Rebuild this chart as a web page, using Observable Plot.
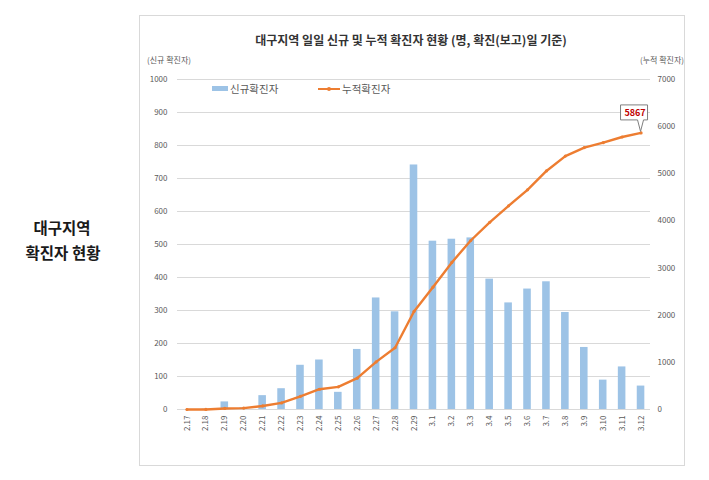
<!DOCTYPE html>
<html><head><meta charset="utf-8">
<script src="https://cdn.jsdelivr.net/npm/d3@7"></script>
<script src="https://cdn.jsdelivr.net/npm/@observablehq/plot@0.6"></script>
<style>
body{margin:0;background:#fff;font-family:"Noto Sans CJK KR","Noto Sans",sans-serif;}
#wrap{position:relative;width:709px;height:480px;overflow:hidden;}
#wrap svg{position:absolute;left:0;top:0;}
.abs{position:absolute;white-space:nowrap;line-height:1;}
#frame{position:absolute;left:139px;top:15px;width:546px;height:451px;border:1px solid #d9d9d9;box-sizing:border-box;}
.side{font-size:15.5px;font-weight:bold;color:#1a1a1a;transform:translate(-50%,-50%);}
.title{font-size:12px;font-weight:bold;color:#333;left:411px;top:40px;transform:translate(-50%,-50%);}
.axt{font-size:8px;color:#595959;top:60px;transform:translateY(-50%);}
.leg{font-size:10.5px;color:#595959;top:89px;transform:translateY(-50%);}
</style></head><body>
<div id="wrap">
  <div id="frame"></div>
  <div class="abs side" style="left:62px;top:228px;">대구지역</div>
  <div class="abs side" style="left:63px;top:253px;">확진자 현황</div>
  <div class="abs title">대구지역 일일 신규 및 누적 확진자 현황 (명, 확진(보고)일 기준)</div>
  <div class="abs axt" style="left:147px;">(신규 확진자)</div>
  <div class="abs axt" style="right:25px;">(누적 확진자)</div>
  <div class="abs" style="left:212px;top:86px;width:16px;height:5px;background:#9dc3e6;"></div>
  <div class="abs leg" style="left:230px;">신규확진자</div>
  <div class="abs" style="left:318px;top:88px;width:22px;height:2px;background:#ed7d31;"></div>
  <div class="abs" style="left:327px;top:87px;width:4px;height:4px;border-radius:2px;background:#ed7d31;"></div>
  <div class="abs leg" style="left:342px;">누적확진자</div>
</div>
<script>
const dates = ["2.17","2.18","2.19","2.20","2.21","2.22","2.23","2.24","2.25","2.26","2.27","2.28","2.29",
               "3.1","3.2","3.3","3.4","3.5","3.6","3.7","3.8","3.9","3.10","3.11","3.12"];
const newCases = [0,1,23,5,42,63,134,150,52,182,338,296,741,
                  510,516,520,395,323,365,387,294,188,89,129,71];
const cumCases = [0,1,22,30,75,140,280,430,480,665,1010,1310,2080,
                  2595,3120,3585,3970,4320,4660,5060,5375,5555,5660,5780,5867];
const leftTicks = [0,100,200,300,400,500,600,700,800,900,1000];
const rightTicks = [0,1000,2000,3000,4000,5000,6000,7000];
const ratio = 7;

const data = dates.map((d,i)=>({date:d, n:newCases[i], c:cumCases[i]}));
const last = data[data.length-1];

const chart = Plot.plot({
  width:709, height:480,
  marginLeft:177, marginRight:59, marginTop:79, marginBottom:71,
  style:{fontFamily:'"Noto Sans CJK KR","Noto Sans",sans-serif', fontSize:"8px", color:"#595959", background:"transparent", overflow:"visible"},
  x:{type:"band", domain:dates, paddingInner:0.6, paddingOuter:0.3, round:false, label:null},
  y:{domain:[0,1000], label:null},
  marks:[
    Plot.gridY(leftTicks,{stroke:"#d9d9d9", strokeOpacity:1}),
    Plot.barY(data,{x:"date", y:"n", fill:"#9dc3e6"}),
    Plot.line(data,{x:"date", y:d=>d.c/ratio, stroke:"#ed7d31", strokeWidth:2.4}),
    Plot.dot(data,{x:"date", y:d=>d.c/ratio, r:1.6, fill:"#ed7d31"}),
    Plot.axisY(leftTicks,{anchor:"left", tickSize:0, tickPadding:10, label:null, fill:"#595959", tickFormat:v=>String(v)}),
    Plot.axisY(rightTicks.map(v=>v/ratio),{anchor:"right", tickSize:0, tickPadding:7, label:null, fill:"#595959", tickFormat:v=>String(Math.round(v*ratio))}),
    Plot.axisX({tickRotate:-90, tickSize:0, tickPadding:6, label:null, fill:"#595959"}),
    Plot.text([last],{x:"date", y:d=>d.c/ratio, text:d=>String(d.c), dx:-6, dy:-20, fill:"#c00000", fontWeight:"bold", fontSize:9})
  ]
});
document.getElementById("wrap").appendChild(chart);

// callout box behind the last value label, placed through the chart's scales
const xs = chart.scale("x"), ys = chart.scale("y");
const px = xs.apply(last.date) + xs.bandwidth/2;
const py = ys.apply(last.c/ratio);
const x0 = px-20, x1 = px+7, y0 = py-27.5, y1 = py-12.5;
const labelNode = Array.from(chart.querySelectorAll("text")).find(t=>t.textContent===String(last.c));
const markG = labelNode ? (labelNode.closest("g[aria-label='text']") || labelNode.parentNode) : null;
const path = document.createElementNS("http://www.w3.org/2000/svg","path");
path.setAttribute("d",`M${x0},${y0}H${x1}V${y1}H${px+3}L${px},${py-1}L${px-3},${y1}H${x0}Z`);
path.setAttribute("fill","#fff");
path.setAttribute("stroke","#7f7f7f");
path.setAttribute("stroke-width","1");
if (markG && markG.parentNode) markG.parentNode.insertBefore(path, markG);
else chart.appendChild(path);
</script>
</body></html>
